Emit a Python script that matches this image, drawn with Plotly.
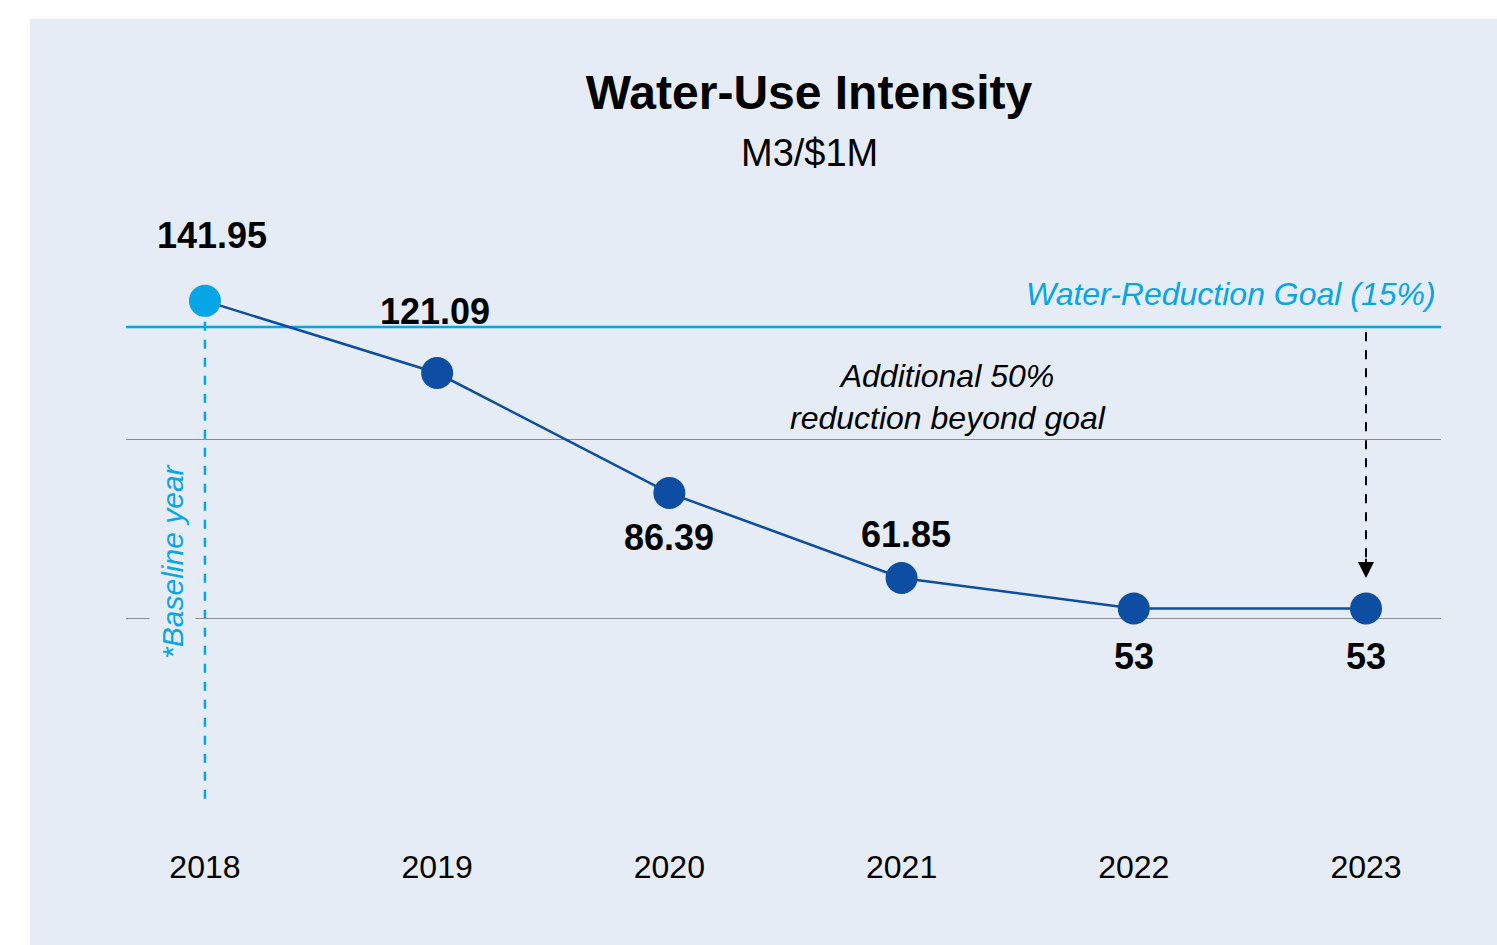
import plotly.graph_objects as go

# ---- data ----
years = ["2018", "2019", "2020", "2021", "2022", "2023"]
intensity = [141.95, 121.09, 86.39, 61.85, 53, 53]
goal_level = 134.4          # level of the drawn reduction-goal line
arrow_top = 132.9           # dashed arrow start / end
arrow_tip = 61.8
grid_vals = [-2, 50, 102, 154]

FONT = "Liberation Sans"
DARK = "#0D4EA2"
LIGHT = "#05A5E6"
PANEL = "#E5ECF6"
GRID = "#8E8E8E"

W, H = 1497, 945
PL, PR, PT, PB = 126, 1441, 259, 799  # plot area in page pixels
PW, PH = PR - PL, PB - PT

xs = list(range(len(years)))

fig = go.Figure()
fig.add_trace(go.Scatter(
    x=xs, y=intensity, mode="lines+markers",
    line=dict(color=DARK, width=2.5),
    marker=dict(size=32, color=[LIGHT] + [DARK] * (len(years) - 1), line=dict(width=0)),
    hoverinfo="skip", showlegend=False,
))

# data labels: offsets (px) relative to each point
label_shift = [(7, 65), (-2, 62), (0, -44), (4, 43), (0, -48), (0, -48)]
annotations = []
for i, v in enumerate(intensity):
    dx, dy = label_shift[i]
    annotations.append(dict(
        x=xs[i], y=v, xref="x", yref="y", text=f"<b>{v:g}</b>", showarrow=False,
        xshift=dx, yshift=dy, font=dict(family=FONT, size=36, color="black"),
        xanchor="center", yanchor="middle",
    ))

# subtitle
annotations.append(dict(
    x=(809 - PL) / PW, y=(PB - 153) / PH, xref="paper", yref="paper",
    text="M3/$1M", showarrow=False, font=dict(family=FONT, size=38, color="black"),
    xanchor="center", yanchor="middle",
))
# goal label
annotations.append(dict(
    x=(1438 - PL) / PW, y=goal_level, xref="paper", yref="y",
    text="<i>Water-Reduction Goal (15%)</i>", showarrow=False, yshift=33,
    font=dict(family=FONT, size=32, color=LIGHT), xanchor="right", yanchor="middle",
))
# additional reduction text
annotations.append(dict(
    x=3.2, y=goal_level, xref="x", yref="y",
    text="<i>Additional 50%<br>reduction beyond goal</i>",
    showarrow=False, yshift=-70, borderpad=0, align="center",
    font=dict(family=FONT, size=32, color="black"),
    xanchor="center", yanchor="middle",
))
# baseline label
annotations.append(dict(
    x=0, y=50, xref="x", yref="y", text="<i>*Baseline year</i>", showarrow=False,
    xshift=-32, yshift=57, textangle=-90, bgcolor=PANEL, borderpad=6,
    font=dict(family=FONT, size=30, color=LIGHT), xanchor="center", yanchor="middle",
))
# arrow head
annotations.append(dict(
    x=xs[-1], y=arrow_tip, xref="x", yref="y", ax=xs[-1], ay=arrow_tip + 6,
    axref="x", ayref="y", text="", showarrow=True, arrowhead=2, arrowsize=1.6,
    arrowwidth=2, arrowcolor="black",
))

shapes = [
    # panel background
    dict(type="rect", xref="paper", yref="paper", x0=(30 - PL) / PW, x1=1.2,
         y0=-0.4, y1=(PB - 19) / PH, fillcolor=PANEL, line=dict(width=0), layer="below"),
    # goal line
    dict(type="line", xref="paper", yref="y", x0=0, x1=1, y0=goal_level, y1=goal_level,
         line=dict(color=LIGHT, width=2.5), layer="below"),
    # baseline dashed vertical
    dict(type="line", xref="x", yref="y", x0=0, x1=0, y0=-2, y1=intensity[0],
         line=dict(color=LIGHT, width=2.5, dash="dash"), layer="below"),
    # dashed arrow shaft
    dict(type="line", xref="x", yref="y", x0=xs[-1], x1=xs[-1], y0=arrow_top, y1=arrow_tip + 4,
         line=dict(color="black", width=2, dash="dash")),
]

fig.update_layout(
    width=W, height=H,
    margin=dict(l=PL, r=W - PR, t=PT, b=H - PB),
    paper_bgcolor="white", plot_bgcolor="rgba(0,0,0,0)",
    title=dict(text="<b>Water-Use Intensity</b>", x=809 / W, y=1 - 92 / H,
               xanchor="center", yanchor="middle",
               font=dict(family=FONT, size=48, color="black")),
    xaxis=dict(range=[-0.34, 5.323], tickmode="array", tickvals=xs, ticktext=years,
               showgrid=False, zeroline=False, showline=False,
               ticks="outside", ticklen=40, tickcolor="rgba(0,0,0,0)",
               tickfont=dict(family=FONT, size=32, color="black")),
    yaxis=dict(range=[-2.05, 154.05], tickmode="array", tickvals=grid_vals,
               showticklabels=False, showgrid=True, gridcolor=GRID, gridwidth=1.3,
               zeroline=False, showline=False),
    annotations=annotations, shapes=shapes,
)

fig.write_html(
    "out.html",
    config={"displayModeBar": False},
    post_script="document.body.style.margin='0';document.body.style.overflow='hidden';",
)
